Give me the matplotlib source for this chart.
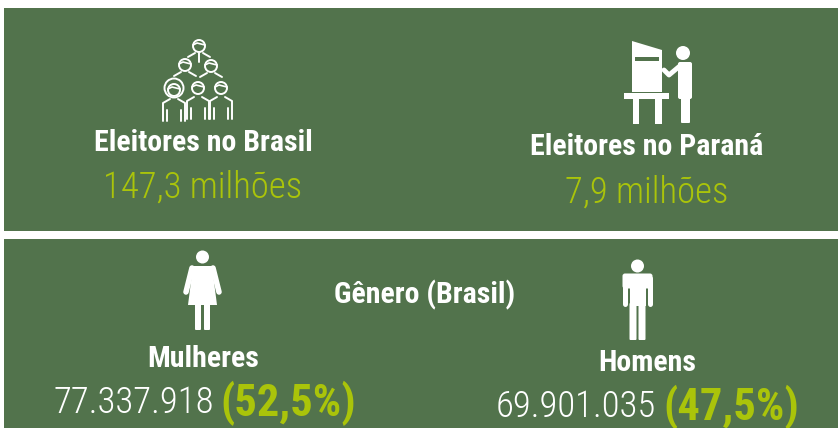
import matplotlib
matplotlib.use('Agg')
import matplotlib.pyplot as plt
from matplotlib.patches import Rectangle, Polygon, Circle, FancyBboxPatch

GREEN = '#52734c'
LIME = '#aac40a'
WHITE = '#ffffff'
NARROW = ['Roboto Condensed', 'Liberation Sans', 'DejaVu Sans']

# Texts from the picture
titulo_brasil = 'Eleitores no Brasil'
valor_brasil = '147,3 milhões'
titulo_parana = 'Eleitores no Paraná'
valor_parana = '7,9 milhões'
titulo_genero = 'Gênero (Brasil)'
generos = ['Mulheres', 'Homens']
eleitores = ['77.337.918', '69.901.035']
percentuais = ['(52,5%)', '(47,5%)']

fig = plt.figure(figsize=(8.38, 4.28), dpi=100, facecolor='white')
ax = fig.add_axes([0, 0, 1, 1])
ax.set_xlim(0, 838)
ax.set_ylim(428, 0)
ax.axis('off')

# Panels
ax.add_patch(Rectangle((4, 8), 834, 223, fc=GREEN, ec='none'))
ax.add_patch(Rectangle((4, 239), 834, 189, fc=GREEN, ec='none'))


def rect(x0, y0, x1, y1, color=WHITE, z=3):
    ax.add_patch(Rectangle((x0, y0), x1 - x0, y1 - y0, fc=color, ec='none', zorder=z))


def stroke(xs, ys, lw=1.4, color=WHITE):
    ax.plot(xs, ys, color=color, lw=lw, solid_capstyle='round', solid_joinstyle='round', zorder=3)


def person_outline(cx, cy, r=6, long_body=False):
    # head and fringe
    ax.add_patch(Circle((cx, cy), r, fc='none', ec=WHITE, lw=1.4, zorder=3))
    stroke([cx - r, cx - 2, cx + 2, cx + r], [cy - 1, cy - 3, cy - 2, cy - 1], lw=1.2)
    # shoulders
    if long_body:
        stroke([cx - 11, cx - 11, cx - 4], [cy + 31, cy + 13, cy + 9])
        stroke([cx + 11, cx + 11, cx + 4], [cy + 31, cy + 13, cy + 9])
        stroke([cx - 7, cx - 7], [cy + 20, cy + 31])
        stroke([cx + 7, cx + 7], [cy + 20, cy + 31])
    else:
        stroke([cx - 11, cx - 4], [cy + 11, cy + 7])
        stroke([cx + 11, cx + 4], [cy + 11, cy + 7])


# Group icon
person_outline(199, 46)
stroke([199, 199], [53, 62])
person_outline(185, 65)
person_outline(211, 66)
person_outline(174, 90, long_body=True)
ax.add_patch(Circle((174, 88), 9.5, fc='none', ec=WHITE, lw=1.4, zorder=3))
person_outline(198, 88, long_body=True)
person_outline(221, 88, long_body=True)

# Voting booth icon
ax.add_patch(Polygon([(632, 41), (662, 50), (662, 92), (632, 92)], fc=WHITE, ec='none', zorder=3))
rect(635, 57, 659, 61, color=GREEN, z=4)
rect(624, 93, 669, 99)
rect(633, 99, 639, 124)
rect(655, 99, 662, 124)
ax.add_patch(Circle((683, 53), 7, fc=WHITE, ec='none', zorder=3))
ax.add_patch(FancyBboxPatch((680, 64), 10, 33, boxstyle='round,pad=2', fc=WHITE, ec='none', zorder=3))
ax.add_patch(FancyBboxPatch((682, 97), 7, 25, boxstyle='round,pad=1', fc=WHITE, ec='none', zorder=3))
stroke([681, 669, 664], [65, 75, 70], lw=3.5)

# Woman icon
ax.add_patch(Circle((202.5, 257), 6.5, fc=WHITE, ec='none', zorder=3))
ax.add_patch(Polygon([(193, 266), (212, 266), (217, 305), (188, 305)], fc=WHITE, ec='none', zorder=3))
stroke([192, 186], [268, 292], lw=4)
stroke([213, 219], [268, 292], lw=4)
ax.add_patch(FancyBboxPatch((196, 304), 4, 25, boxstyle='round,pad=1', fc=WHITE, ec='none', zorder=3))
ax.add_patch(FancyBboxPatch((205, 304), 4, 25, boxstyle='round,pad=1', fc=WHITE, ec='none', zorder=3))

# Man icon
ax.add_patch(Circle((637.5, 266), 6.5, fc=WHITE, ec='none', zorder=3))
ax.add_patch(FancyBboxPatch((625, 276), 25, 10, boxstyle='round,pad=2.5', fc=WHITE, ec='none', zorder=3))
rect(629.5, 276, 645.5, 306)
stroke([625, 625], [278, 304], lw=3.6)
stroke([650, 650], [278, 304], lw=3.6)
ax.add_patch(FancyBboxPatch((630.5, 304), 5, 35, boxstyle='round,pad=1', fc=WHITE, ec='none', zorder=3))
ax.add_patch(FancyBboxPatch((639.5, 304), 5, 35, boxstyle='round,pad=1', fc=WHITE, ec='none', zorder=3))


def label(x, y, s, size, color=WHITE, weight='normal', ha='center'):
    return ax.text(x, y, s, fontsize=size, color=color, fontweight=weight, ha=ha, va='center',
                   family=NARROW, zorder=5)


# Top texts
label(203, 143, titulo_brasil, 21.5, weight='bold')
label(203, 188, valor_brasil, 26.5, color=LIME, weight=300)
label(647, 147, titulo_parana, 21.5, weight='bold')
label(647, 193, valor_parana, 26.5, color=LIME, weight=300)

# Bottom texts
label(425, 295, titulo_genero, 21.5, weight='bold')
label(203.5, 359, generos[0], 21.5, weight='bold')
label(647, 363, generos[1], 21.5, weight='bold')

label(53, 403, eleitores[0], 26.5, ha='left', weight=300)
label(220, 403, percentuais[0], 32, color=LIME, weight='bold', ha='left')
label(496, 407, eleitores[1], 26.5, ha='left', weight=300)
label(663, 407, percentuais[1], 32, color=LIME, weight='bold', ha='left')

fig.savefig('out.png', dpi=100, facecolor='white')
